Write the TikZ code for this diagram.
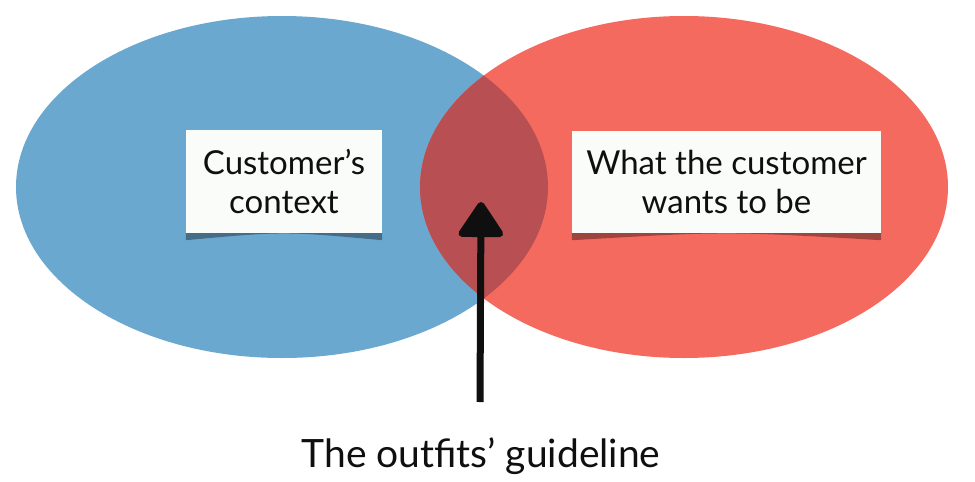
\documentclass[tikz,border=0pt]{standalone}
\usepackage{fontspec}
\setmainfont{Lato}
\usepackage{tikz}
\usetikzlibrary{arrows.meta, positioning, calc}
\definecolor{vnBlue}{RGB}{107,168,208}
\definecolor{vnRed}{RGB}{245,106,95}
\definecolor{vnOver}{RGB}{184,79,82}
\definecolor{vnPaper}{RGB}{249,252,248}
\definecolor{vnInk}{RGB}{15,15,15}

\begin{document}
\begin{tikzpicture}[x=1pt,y=-1pt,
  L/.style={fill=vnPaper,inner sep=0pt,align=center,text=vnInk,
            font=\fontsize{33}{39}\selectfont},
  G/.style={text=vnInk,font=\fontsize{39}{44}\selectfont,inner sep=0pt}]
\useasboundingbox (0,0) rectangle (975,482);

% the two sets
\fill[vnBlue] (282,187) ellipse [x radius=266,y radius=171];
\fill[vnRed]  (684,187) ellipse [x radius=264,y radius=171];
\begin{scope}
  \clip (282,187) ellipse [x radius=266,y radius=171];
  \fill[vnOver] (684,187) ellipse [x radius=264,y radius=171];
\end{scope}

% labels on paper cards
\node[L,minimum width=196,minimum height=103] (ctx) at (284,181.5)
  {Customer’s\\context};
\node[L,minimum width=309,minimum height=102] (want) at (726.5,182)
  {What the customer\\wants to be};

% curled shadow under each card
\foreach \n in {ctx,want}{
  \fill[black,opacity=.35]
    (\n.south west) -- (\n.south east) -- ++(0,7)
    .. controls ($(\n.south)+(0,-2)$) .. ($(\n.south west)+(0,7)$) -- cycle;
}

% the arrow
\node[G,anchor=base] (guide) at (481,467) {The outfits’ guideline};
\coordinate (tail) at (480,402);
\coordinate (tip)  at (481,202);
\draw[line width=7pt,vnInk,-{Triangle[width=49pt,length=38pt,round]}]
  (tail) -- (tip);
\end{tikzpicture}
\end{document}
